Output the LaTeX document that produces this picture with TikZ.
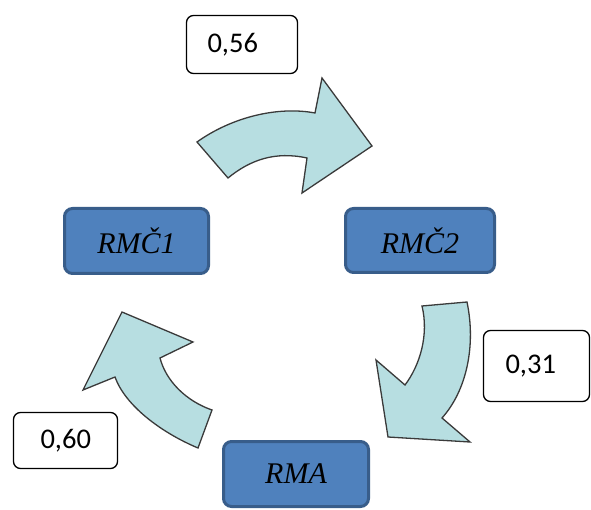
\documentclass[tikz,border=0pt]{standalone}
\usepackage{fontspec}
\setmainfont{Liberation Serif}
\newfontfamily\numfont{Carlito}
\begin{document}
\begin{tikzpicture}[x=1pt,y=-1pt,
  stagebox/.style={draw=stageborder, fill=stagefill, line width=3pt, rounded corners=8pt,
    inner sep=0pt, font=\fontsize{30}{30}\selectfont\itshape},
  valuebox/.style={draw=black, fill=white, line width=1.3pt, rounded corners=7pt,
    inner ysep=0pt, align=left, font=\numfont\fontsize{28.5}{30}\selectfont},
  flowarrow/.style={draw=arrowborder, fill=arrowfill, line width=1.3pt, line join=miter}]
\definecolor{stagefill}{HTML}{4F81BD}
\definecolor{stageborder}{HTML}{385D8A}
\definecolor{arrowfill}{HTML}{B7DEE1}
\definecolor{arrowborder}{HTML}{3A3A3A}
\useasboundingbox (0,0) rectangle (591,510);
\begin{scope}
\clip (0,0) rectangle (591,510);

% curved block arrows of the cycle
\draw[flowarrow] (197,142) .. controls (232,117) and (278,106) .. (315,113)
  -- (322,78) -- (372,146) -- (302,193) -- (307,158)
  .. controls (275,151) and (250,160) .. (228,178) -- cycle;
\draw[flowarrow] (422,306) -- (467,302)
  .. controls (476,345) and (467,390) .. (442,418)
  -- (470,442) -- (388,437) -- (376,360) -- (405,385)
  .. controls (420,365) and (429,335) .. (422,306) -- cycle;
\draw[flowarrow] (212,410) -- (198,448)
  .. controls (160,432) and (125,405) .. (115,377)
  -- (83,390) -- (122,312) -- (193,342) -- (160,358)
  .. controls (166,381) and (186,401) .. (212,410) -- cycle;

% stages
\node[stagebox, minimum width=144pt, minimum height=65pt] (rmc1) at (136.5,241) {RMČ1};
\node[stagebox, minimum width=149pt, minimum height=64pt] (rmc2) at (420,240.5) {RMČ2};
\node[stagebox, minimum width=145pt, minimum height=65pt] (rma) at (296,474) {RMA};

% transition values
\node[valuebox, inner xsep=21pt, text width=69pt, minimum height=58pt] (v1) at (242,44.5) {0,56};
\node[valuebox, inner xsep=22pt, text width=62pt, minimum height=71pt] (v2) at (536.5,366) {0,31};
\node[valuebox, inner xsep=27pt, text width=50pt, minimum height=56pt] (v3) at (65.5,440.5) {0,60};
\end{scope}
\end{tikzpicture}
\end{document}
